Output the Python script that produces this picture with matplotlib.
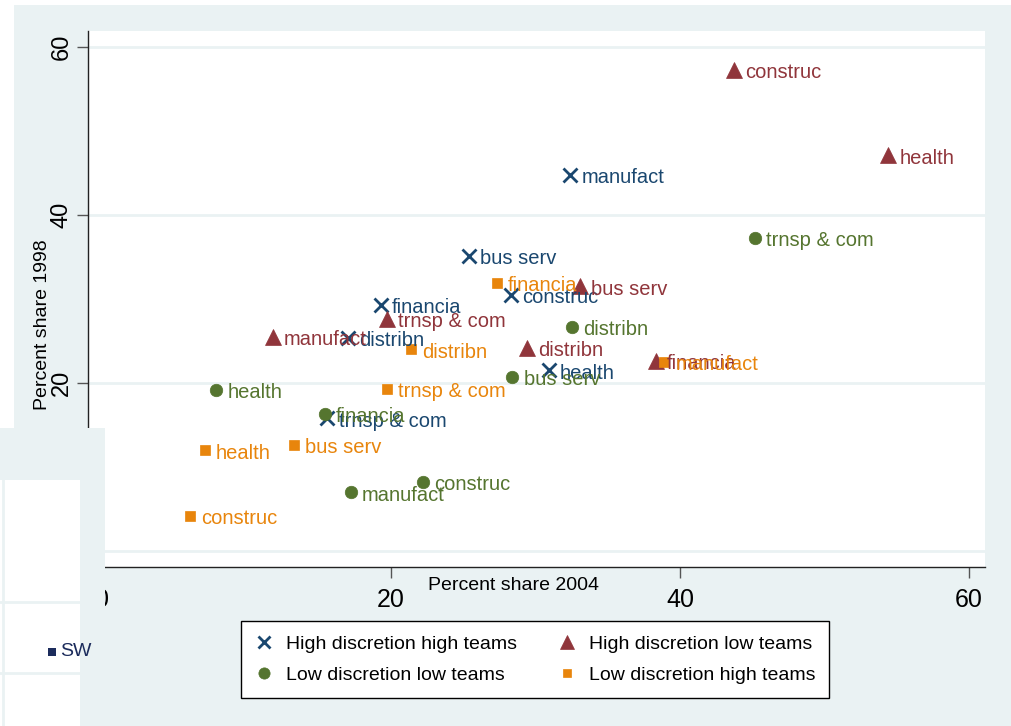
import matplotlib.pyplot as plt
from matplotlib.lines import Line2D
from matplotlib.patches import Rectangle

plt.rcParams["font.family"] = ["Liberation Sans", "DejaVu Sans"]

W, H = 1011, 726
BG = "#eaf2f3"

# High discretion high teams
hdht_labels = ["manufact", "bus serv", "financia", "construc", "distribn", "health", "trnsp & com"]
hdht_x = [32.4, 25.4, 19.3, 28.3, 17.0, 30.9, 15.6]
hdht_y = [44.8, 35.1, 29.3, 30.5, 25.4, 21.5, 15.8]

# High discretion low teams
hdlt_labels = ["construc", "health", "bus serv", "trnsp & com", "manufact", "distribn", "financia"]
hdlt_x = [43.7, 54.4, 33.1, 19.7, 11.8, 29.4, 38.3]
hdlt_y = [57.3, 47.1, 31.5, 27.6, 25.5, 24.2, 22.6]

# Low discretion low teams
ldlt_labels = ["trnsp & com", "distribn", "bus serv", "health", "financia", "construc", "manufact"]
ldlt_x = [45.2, 32.5, 28.4, 7.9, 15.4, 22.2, 17.2]
ldlt_y = [37.3, 26.7, 20.7, 19.2, 16.3, 8.2, 7.0]

# Low discretion high teams
ldht_labels = ["financia", "distribn", "trnsp & com", "manufact", "bus serv", "health", "construc"]
ldht_x = [27.3, 21.4, 19.7, 38.9, 13.3, 7.1, 6.1]
ldht_y = [31.9, 24.0, 19.3, 22.5, 12.6, 12.0, 4.2]

series = [
    ("High discretion high teams", hdht_x, hdht_y, hdht_labels, "#1a476f", "x", 10, 2.0),
    ("High discretion low teams", hdlt_x, hdlt_y, hdlt_labels, "#90353b", "^", 11, 0),
    ("Low discretion low teams", ldlt_x, ldlt_y, ldlt_labels, "#55752f", "o", 9, 0),
    ("Low discretion high teams", ldht_x, ldht_y, ldht_labels, "#e8850c", "s", 7, 0),
]

fig = plt.figure(figsize=(W / 100, H / 100), dpi=100, facecolor=BG)
ax = fig.add_axes([88 / W, 1 - 567 / H, (985 - 88) / W, (567 - 31) / H])
ax.set_facecolor("white")
ax.set_xlim(-0.97, 61.1)
ax.set_ylim(-1.9, 61.9)

for name, xs, ys, labels, color, marker, size, mew in series:
    ax.plot(xs, ys, linestyle="none", marker=marker, markersize=size, color=color,
            markeredgewidth=mew if mew else 0.5, zorder=3)
    for x, y, lab in zip(xs, ys, labels):
        ax.annotate(lab, (x, y), xytext=(8, -2), textcoords="offset points",
                    ha="left", va="center", color=color, fontsize=14.5, zorder=4)

ax.set_xticks([0, 20, 40, 60])
ax.set_yticks([0, 20, 40, 60])
ax.grid(axis="y", color=BG, linewidth=2)
ax.set_axisbelow(True)
for side in ["top", "right"]:
    ax.spines[side].set_visible(False)
for side in ["left", "bottom"]:
    ax.spines[side].set_color("#222222")
    ax.spines[side].set_linewidth(1)
ax.tick_params(axis="x", length=8, width=1, color="#555555", labelsize=18, pad=7)
ax.tick_params(axis="y", length=8, width=1, color="#555555", labelsize=17, pad=3)
for lab in ax.get_yticklabels():
    lab.set_rotation(90)
    lab.set_va("center")

fig.text(514 / W, 1 - 586 / H, "Percent share 2004", ha="center", va="center", fontsize=14)
fig.text(43 / W, 1 - 325 / H, "Percent share 1998", ha="center", va="center",
         rotation=90, fontsize=14)

handles = []
for name, xs, ys, labels, color, marker, size, mew in series:
    handles.append(Line2D([], [], linestyle="none", marker=marker, markersize=size * 0.9,
                          color=color, markeredgewidth=mew if mew else 0.5, label=name))
order = [0, 2, 1, 3]
leg = fig.legend([handles[i] for i in order], [series[i][0] for i in order],
                 loc="center", bbox_to_anchor=(535 / W, 1 - 659.5 / H), ncol=2,
                 fontsize=14, frameon=True, fancybox=False, framealpha=1,
                 edgecolor="black", handlelength=1.0, handletextpad=0.6,
                 columnspacing=2.1, labelspacing=0.7, borderpad=0.7)
leg.get_frame().set_linewidth(1)

# white margins at top and left
fig.patches.append(Rectangle((0, 1 - 5 / H), 1, 5 / H, transform=fig.transFigure,
                             facecolor="white", edgecolor="none", zorder=10))
fig.patches.append(Rectangle((0, 1 - 428 / H), 14 / W, 423 / H, transform=fig.transFigure,
                             facecolor="white", edgecolor="none", zorder=10))

# overlapping panel in the lower left
fig.patches.append(Rectangle((0, 0), 105 / W, 1 - 428 / H, transform=fig.transFigure,
                             facecolor=BG, edgecolor="none", zorder=10))
fig.patches.append(Rectangle((0, 0), 80 / W, 1 - 480 / H, transform=fig.transFigure,
                             facecolor="white", edgecolor="none", zorder=11))
fig.lines.append(Line2D([3 / W, 3 / W], [0, 1 - 480 / H], transform=fig.transFigure,
                        color=BG, linewidth=2, zorder=12))
for yy in [602, 673]:
    fig.lines.append(Line2D([0, 80 / W], [1 - yy / H, 1 - yy / H], transform=fig.transFigure,
                            color=BG, linewidth=2, zorder=12))
fig.patches.append(Rectangle((48 / W, 1 - 656 / H), 8 / W, 8 / H, transform=fig.transFigure,
                             facecolor="#1c2c5c", edgecolor="none", zorder=13))
fig.text(60 / W, 1 - 652 / H, "SW", ha="left", va="center", fontsize=14,
         color="#1c2c5c", zorder=13)

fig.savefig("out.png", dpi=100, facecolor=BG)
